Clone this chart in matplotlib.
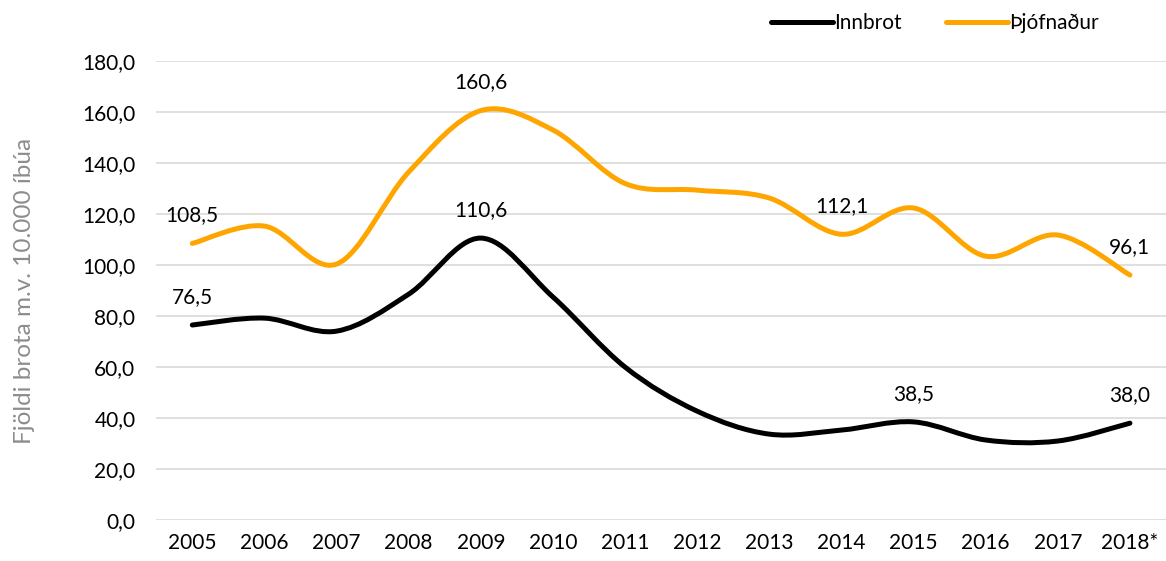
import numpy as np
import matplotlib
matplotlib.use("Agg")
import matplotlib.pyplot as plt
from matplotlib.path import Path
from matplotlib.patches import PathPatch
from matplotlib.lines import Line2D

plt.rcParams['font.family'] = ['Lato', 'DejaVu Sans']

years = ["2005", "2006", "2007", "2008", "2009", "2010", "2011", "2012",
         "2013", "2014", "2015", "2016", "2017", "2018*"]
innbrot = [76.5, 79.2, 74.1, 88.6, 110.6, 87.5, 60.0, 42.7, 33.7, 35.3, 38.5, 31.4, 31.0, 38.0]
thjofnadur = [108.5, 115.3, 100.4, 136.5, 160.6, 153.0, 132.0, 129.4, 126.3, 112.1, 122.4, 103.5, 111.8, 96.1]
innbrot_labels = {0: "76,5", 4: "110,6", 10: "38,5", 13: "38,0"}
thjof_labels = {0: "108,5", 4: "160,6", 9: "112,1", 13: "96,1"}
yticks = [0, 20, 40, 60, 80, 100, 120, 140, 160, 180]


def smooth_path(x, y):
    """Excel-style smoothed line: cubic Bezier through points (Catmull-Rom)."""
    x = np.asarray(x, float)
    y = np.asarray(y, float)
    n = len(x)
    verts = [(x[0], y[0])]
    codes = [Path.MOVETO]
    for i in range(n - 1):
        p0 = (x[i - 1], y[i - 1]) if i > 0 else (x[i], y[i])
        p1 = (x[i], y[i])
        p2 = (x[i + 1], y[i + 1])
        p3 = (x[i + 2], y[i + 2]) if i + 2 < n else (x[i + 1], y[i + 1])
        c1 = (p1[0] + (p2[0] - p0[0]) / 6, p1[1] + (p2[1] - p0[1]) / 6)
        c2 = (p2[0] - (p3[0] - p1[0]) / 6, p2[1] - (p3[1] - p1[1]) / 6)
        verts += [c1, c2, p2]
        codes += [Path.CURVE4] * 3
    return Path(verts, codes)


fig = plt.figure(figsize=(11.66, 5.61), dpi=100)
ax = fig.add_axes([0.134, 0.073, 0.866, 0.818])

x = np.arange(len(years))
black = "#000000"
orange = "#FFA500"
fs = 15

for vals, col in ((innbrot, black), (thjofnadur, orange)):
    p = PathPatch(smooth_path(x, vals), facecolor="none", edgecolor=col,
                  lw=3.6, capstyle="round", joinstyle="round", zorder=3)
    ax.add_patch(p)

for i, t in innbrot_labels.items():
    ax.annotate(t, (x[i], innbrot[i]), xytext=(0, 13), textcoords="offset points",
                ha="center", va="bottom", fontsize=fs, color="#000000")
for i, t in thjof_labels.items():
    ax.annotate(t, (x[i], thjofnadur[i]), xytext=(0, 13), textcoords="offset points",
                ha="center", va="bottom", fontsize=fs, color="#000000")

ax.set_xlim(-0.5, len(years) - 0.5)
ax.set_ylim(0, 180)
ax.set_yticks(yticks)
ax.set_yticklabels([f"{v:.1f}".replace(".", ",") for v in yticks], fontsize=fs)
ax.set_xticks(x)
ax.set_xticklabels(years, fontsize=fs)
ax.tick_params(length=0, pad=9)
ax.tick_params(axis="y", pad=15)
ax.grid(axis="y", color="#D9D9D9", lw=1.2)
ax.set_axisbelow(True)
for s in ax.spines.values():
    s.set_visible(False)

ax.set_ylabel("Fjöldi brota m.v. 10.000 íbúa", fontsize=17.5, color="#8C8C8C", labelpad=34)

handles = [Line2D([0], [0], color=black, lw=3.6, solid_capstyle="round"),
           Line2D([0], [0], color=orange, lw=3.6, solid_capstyle="round")]
fig.legend(handles, ["Innbrot", "Þjófnaður"], loc="upper left",
           bbox_to_anchor=(0.645, 1.01), ncol=2, frameon=False, fontsize=fs,
           handlelength=3.0, handletextpad=0.05, columnspacing=2.1)

fig.savefig("out.png", dpi=100)
